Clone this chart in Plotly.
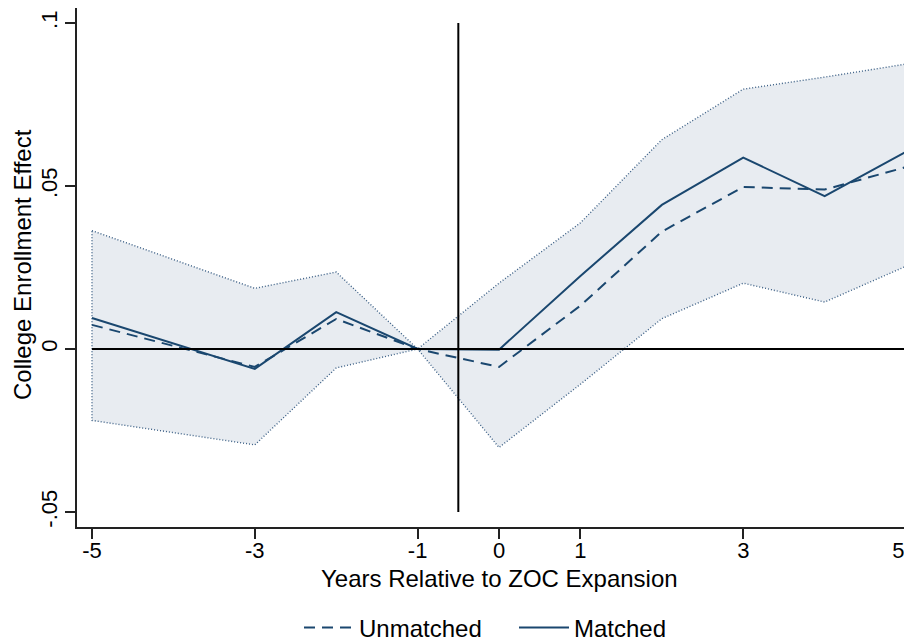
import plotly.graph_objects as go

years = [-5, -3, -2, -1, 0, 1, 2, 3, 4, 5]
matched = [0.0095, -0.0061, 0.0113, 0.0, -0.0002, 0.0224, 0.0442, 0.0587, 0.0469, 0.0605]
unmatched = [0.0074, -0.0055, 0.0092, 0.0, -0.0055, 0.0133, 0.0360, 0.0497, 0.0489, 0.0558]
ci_upper = [0.0363, 0.0186, 0.0236, 0.0, 0.0202, 0.0387, 0.0642, 0.0797, 0.0834, 0.0874]
ci_lower = [-0.0219, -0.0294, -0.0058, 0.0, -0.0302, -0.0108, 0.0093, 0.0202, 0.0144, 0.0254]

x_ticks = [-5, -3, -1, 0, 1, 3, 5]
x_tick_labels = ["-5", "-3", "-1", "0", "1", "3", "5\u2002\u2009"]
y_ticks = [-0.05, 0, 0.05, 0.1]
y_tick_labels = ["-.05", "0", ".05", ".1"]

NAVY = "#1a476f"
FONT = "Liberation Sans, Arial, Helvetica, sans-serif"
FS = 24
TFS = 22

# page has an 8px body margin: figure pixels = page pixels - 8
OFF = 8
W, H = 912 - OFF, 644 - OFF
L, R, T = 77 - OFF, 3, 0
B = H - (527 - OFF)
PW, PH = W - L - R, H - T - B


def px(xp):
    return (xp - OFF - L) / PW


def py(yp):
    return (H - B - (yp - OFF)) / PH


fig = go.Figure()

fig.add_trace(go.Scatter(
    x=years + years[::-1] + [years[0]],
    y=ci_upper + ci_lower[::-1] + [ci_upper[0]],
    mode="lines", fill="toself",
    fillcolor="#e8ecf1",
    line=dict(color="#3b5f85", width=1.4, dash="1px,2px"),
    showlegend=False, hoverinfo="skip",
))

fig.add_trace(go.Scatter(
    x=years, y=unmatched, mode="lines", name="Unmatched",
    line=dict(color=NAVY, width=2, dash="11px,7px"),
))
fig.add_trace(go.Scatter(
    x=years, y=matched, mode="lines", name="Matched",
    line=dict(color=NAVY, width=2),
))

fig.add_shape(type="line", x0=-5, x1=5, y0=0, y1=0, xref="x", yref="y",
              line=dict(color="black", width=2), layer="above")
fig.add_shape(type="line", x0=-0.5, x1=-0.5, y0=-0.05, y1=0.1, xref="x", yref="y",
              line=dict(color="black", width=2), layer="above")

fig.add_annotation(text="Years Relative to ZOC Expansion", xref="paper", yref="paper",
                   x=px(499), y=py(578), xanchor="center", yanchor="middle",
                   showarrow=False, font=dict(size=FS))
fig.add_annotation(text="College Enrollment Effect", xref="paper", yref="paper",
                   x=px(22), y=py(265), xanchor="center", yanchor="middle",
                   textangle=-90, showarrow=False, font=dict(size=FS))

fig.update_layout(
    width=W, height=H,
    margin=dict(l=L, r=R, t=T, b=B, autoexpand=False),
    paper_bgcolor="white", plot_bgcolor="white",
    font=dict(family=FONT, size=FS, color="black"),
    legend=dict(orientation="h", x=px(299), xanchor="left",
                y=py(628), yanchor="middle",
                font=dict(size=FS), itemwidth=50, traceorder="normal",
                entrywidth=150, entrywidthmode="pixels"),
    showlegend=True,
)

fig.update_xaxes(
    range=[-5.184, 5.036], tickvals=x_ticks, ticktext=x_tick_labels,
    showline=True, linecolor="#222", linewidth=1.5, mirror=False,
    ticks="outside", ticklen=10, tickwidth=1.5, tickcolor="#222",
    showgrid=False, zeroline=False, automargin=False,
    ticklabeloverflow="allow", ticklabelstandoff=-7, tickfont=dict(size=TFS),
)
fig.update_yaxes(
    range=[-0.0546, 0.1046], tickvals=y_ticks, ticktext=y_tick_labels, tickangle=-90,
    showline=True, linecolor="#222", linewidth=1.5,
    ticks="outside", ticklen=10, tickwidth=1.5, tickcolor="#222",
    showgrid=False, zeroline=False, automargin=False,
    ticklabeloverflow="allow", ticklabelstandoff=-1, tickfont=dict(size=TFS),
)

fig.write_html("out.html")
